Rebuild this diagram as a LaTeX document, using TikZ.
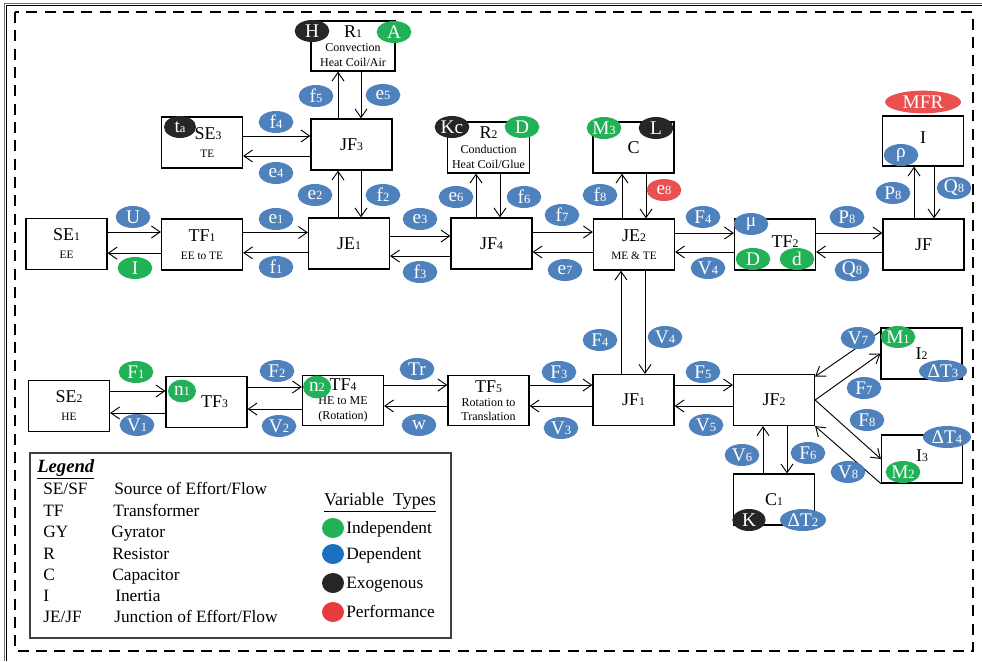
\documentclass[tikz,border=0pt]{standalone}
\usepackage{fontspec}
\setmainfont{Liberation Serif}
\usepackage{graphicx}
\usetikzlibrary{arrows.meta,positioning,calc,shapes.geometric}

\definecolor{depblue}{RGB}{79,129,189}
\definecolor{indgreen}{RGB}{35,177,87}
\definecolor{exoblack}{RGB}{38,38,38}
\definecolor{perfred}{RGB}{235,80,80}
\definecolor{legblue}{RGB}{28,112,192}
\definecolor{legred}{RGB}{232,60,60}

\newcommand{\ix}[1]{\scalebox{0.65}{#1}}
\newcommand{\smalltxt}[1]{{\fontsize{8.5}{10}\selectfont #1}}
\newcommand{\midtxt}[1]{{\fontsize{9}{10.5}\selectfont #1}}

\begin{document}
\begin{tikzpicture}[x=0.75pt, y=-0.75pt,
    blk/.style={rectangle, draw, line width=0.9pt, minimum width=60.75pt, minimum height=38.25pt, align=center, inner sep=1pt, font=\fontsize{13.5}{13.5}\selectfont},
    var/.style={ellipse, fill=#1, text=white, inner sep=0pt, minimum width=26pt, minimum height=16.5pt, font=\fontsize{14.5}{14.5}\selectfont},
    var/.default=depblue,
    arr/.style={-{Straight Barb[length=6.5pt, width=9pt]}, line width=0.7pt},
    lgd/.style={anchor=base west, inner sep=0pt, font=\fontsize{13}{13}\selectfont},
    dot/.style={ellipse, fill=#1, inner sep=0pt, minimum width=16.5pt, minimum height=15pt}
]
\useasboundingbox (0,0) rectangle (982,661);

% Frames
\draw[line width=0.6pt, black!55] (4,661) -- (4,3.5) -- (982,3.5);
\draw[line width=0.8pt] (6.5,661) -- (6.5,5.5) -- (982,5.5);
\draw[line width=1.5pt, dash pattern=on 8.25pt off 5.5pt] (15,12) rectangle (973,651);

% Top row (thermal/electrical side)
\node[blk] (se1) at (66.5,244) {SE\ix{1}\\\smalltxt{EE}};
\node[blk] (tf1) at (202,244.5) {TF\ix{1}\\\smalltxt{EE to TE}};
\node[blk] (je1) at (349,243.5) {JE\ix{1}};
\node[blk] (jf4) at (491.5,243.5) {JF\ix{4}};
\node[blk] (je2) at (634,244.5) {JE\ix{2}\\\smalltxt{ME \& TE}};
\node[blk] (tf2) at (775,244.5) {\raisebox{5pt}{\hspace*{15pt}TF\ix{2}}};
\node[blk] (jf) at (923.5,244.5) {JF};

% Upper elements
\node[blk] (se3) at (202,142.5) {\hspace*{9pt}SE\ix{3}\\\hspace*{8pt}\smalltxt{TE}};
\node[blk] (jf3) at (351.5,144.5) {JF\ix{3}};
\node[blk, minimum width=63pt, minimum height=37.5pt] (r1) at (353,46) {R\ix{1}\\[-2.5pt]\midtxt{Convection}\\[-2.5pt]\midtxt{Heat Coil/Air}};
\node[blk, minimum width=62pt] (r2) at (488.5,147.5) {R\ix{2}\\[-2.5pt]\midtxt{Conduction}\\[-2.5pt]\midtxt{Heat Coil/Glue}};
\node[blk] (cap) at (633.5,147.5) {C};
\node[blk, minimum height=37.5pt] (inr) at (923,141) {\raisebox{5pt}{I}};

% Bottom row (mechanical side)
\node[blk] (se2) at (69,406) {SE\ix{2}\\\smalltxt{HE}};
\node[blk] (tf3) at (206.5,402) {\hspace*{12pt}TF\ix{3}};
\node[blk, minimum height=37pt] (tf4) at (343,400.5) {TF\ix{4}\\[-3pt]\midtxt{HE to ME}\\[-2.5pt]\midtxt{(Rotation)}};
\node[blk, minimum height=37pt] (tf5) at (488.5,400.5) {TF\ix{5}\\[-3pt]\midtxt{Rotation to}\\[-2.5pt]\midtxt{Translation}};
\node[blk] (jf1) at (633.5,400) {JF\ix{1}};
\node[blk] (jf2) at (774,400) {JF\ix{2}};
\node[blk] (i2) at (921.5,353.5) {I\ix{2}};
\node[blk, minimum height=36pt] (i3) at (922,459) {\raisebox{5pt}{I\ix{3}}};
\node[blk] (c1) at (774,499.5) {C\ix{1}};

% Horizontal bonds, top row
\draw[arr] ([yshift=9pt]se1.east) -- ([yshift=9pt]se1.east -| tf1.west);
\draw[arr] ([yshift=-6.5pt]tf1.west) -- ([yshift=-6.5pt]tf1.west -| se1.east);
\draw[arr] ([yshift=9pt]tf1.east) -- ([yshift=9pt]tf1.east -| je1.west);
\draw[arr] ([yshift=-7pt]je1.west) -- ([yshift=-7pt]je1.west -| tf1.east);
\draw[arr] ([yshift=5.6pt]je1.east) -- ([yshift=5.6pt]je1.east -| jf4.west);
\draw[arr] ([yshift=-9.4pt]jf4.west) -- ([yshift=-9.4pt]jf4.west -| je1.east);
\draw[arr] ([yshift=8.6pt]jf4.east) -- ([yshift=8.6pt]jf4.east -| je2.west);
\draw[arr] ([yshift=-5.6pt]je2.west) -- ([yshift=-5.6pt]je2.west -| jf4.east);
\draw[arr] ([yshift=8.6pt]je2.east) -- ([yshift=8.6pt]je2.east -| tf2.west);
\draw[arr] ([yshift=-5.6pt]tf2.west) -- ([yshift=-5.6pt]tf2.west -| je2.east);
\draw[arr] ([yshift=8.6pt]tf2.east) -- ([yshift=8.6pt]tf2.east -| jf.west);
\draw[arr] ([yshift=-5.6pt]jf.west) -- ([yshift=-5.6pt]jf.west -| tf2.east);
\draw[arr] ([yshift=4.9pt]se3.east) -- ([yshift=4.9pt]se3.east -| jf3.west);
\draw[arr] ([yshift=-8.6pt]jf3.west) -- ([yshift=-8.6pt]jf3.west -| se3.east);

% Vertical bonds
\draw[arr] ([xshift=-10.1pt]jf3.north) -- ([xshift=-10.1pt]jf3.north |- r1.south);
\draw[arr] ([xshift=6pt]r1.south) -- ([xshift=6pt]r1.south |- jf3.north);
\draw[arr] ([xshift=-8.25pt]je1.north) -- ([xshift=-8.25pt]je1.north |- jf3.south);
\draw[arr] ([xshift=7.1pt]jf3.south) -- ([xshift=7.1pt]jf3.south |- je1.north);
\draw[arr] ([xshift=-11.6pt]jf4.north) -- ([xshift=-11.6pt]jf4.north |- r2.south);
\draw[arr] ([xshift=8.6pt]r2.south) -- ([xshift=8.6pt]r2.south |- jf4.north);
\draw[arr] ([xshift=-9pt]je2.north) -- ([xshift=-9pt]je2.north |- cap.south);
\draw[arr] ([xshift=9.4pt]cap.south) -- ([xshift=9.4pt]cap.south |- je2.north);
\draw[arr] ([xshift=-7.1pt]jf.north) -- ([xshift=-7.1pt]jf.north |- inr.south);
\draw[arr] ([xshift=8.25pt]inr.south) -- ([xshift=8.25pt]inr.south |- jf.north);
\draw[arr] ([xshift=-9.4pt]jf1.north) -- ([xshift=-9.4pt]jf1.north |- je2.south);
\draw[arr] ([xshift=8.25pt]je2.south) -- ([xshift=8.25pt]je2.south |- jf1.north);
\draw[arr] ([xshift=-8.25pt]c1.north) -- ([xshift=-8.25pt]c1.north |- jf2.south);
\draw[arr] ([xshift=9.75pt]jf2.south) -- ([xshift=9.75pt]jf2.south |- c1.north);

% Horizontal bonds, bottom row
\draw[arr] ([yshift=11.25pt]se2.east) -- ([yshift=11.25pt]se2.east -| tf3.west);
\draw[arr] ([yshift=-8.25pt]tf3.west) -- ([yshift=-8.25pt]tf3.west -| se2.east);
\draw[arr] ([yshift=11.25pt]tf3.east) -- ([yshift=11.25pt]tf3.east -| tf4.west);
\draw[arr] ([yshift=-6.4pt]tf4.west) -- ([yshift=-6.4pt]tf4.west -| tf3.east);
\draw[arr] ([yshift=11.6pt]tf4.east) -- ([yshift=11.6pt]tf4.east -| tf5.west);
\draw[arr] ([yshift=-4.1pt]tf5.west) -- ([yshift=-4.1pt]tf5.west -| tf4.east);
\draw[arr] ([yshift=11.6pt]tf5.east) -- ([yshift=11.6pt]tf5.east -| jf1.west);
\draw[arr] ([yshift=-4.5pt]jf1.west) -- ([yshift=-4.5pt]jf1.west -| tf5.east);
\draw[arr] ([yshift=11.25pt]jf1.east) -- ([yshift=11.25pt]jf1.east -| jf2.west);
\draw[arr] ([yshift=-4.5pt]jf2.west) -- ([yshift=-4.5pt]jf2.west -| jf1.east);

% Diagonal bonds to the inertias
\draw[arr] ([yshift=-3pt]i2.north west) -- ([yshift=-2pt]jf2.north east);
\draw[arr] (jf2.east) -- (i2.west);
\draw[arr] (jf2.east) -- (i3.west);
\draw[arr] (i3.south west) -- (jf2.south east);

% Parameters sitting on the elements
\node[var=exoblack] (bH) at (312,31) {H};
\node[var=indgreen] (bA) at (394,32) {A};
\node[var=exoblack, minimum width=24pt] (bta) at (180,127) {t\ix{a}};
\node[var=exoblack] (bKc) at (452,127) {Kc};
\node[var=indgreen] (bD1) at (522,127) {D};
\node[var=indgreen] (bM3) at (604,128) {M\ix{3}};
\node[var=exoblack] (bL) at (656,128) {L};
\node[var=perfred, minimum width=57pt, minimum height=17pt] (bMFR) at (923,102) {MFR};
\node[var] (brho) at (901,155) {ρ};
\node[var] (bmu) at (751,224) {μ};
\node[var=indgreen] (bD2) at (753,259) {D};
\node[var=indgreen] (bd) at (797,259) {d};
\node[var=indgreen, minimum width=21pt, minimum height=17pt] (bn1) at (182,391) {n\ix{1}};
\node[var=indgreen, minimum width=21pt, minimum height=17pt] (bn2) at (317,387) {n\ix{2}};
\node[var=indgreen] (bM1) at (898,337) {M\ix{1}};
\node[var, minimum width=36pt] (bdT3) at (943,371) {ΔT\ix{3}};
\node[var, minimum width=36pt] (bdT4) at (947,437) {ΔT\ix{4}};
\node[var=indgreen] (bM2) at (903,472) {M\ix{2}};
\node[var=exoblack, minimum width=25pt] (bK) at (749,520) {K};
\node[var, minimum width=34.5pt] (bdT2) at (803,520) {ΔT\ix{2}};

% Bond variables, top part
\node[var] (vU) at (133,217) {U};
\node[var=indgreen] (vI) at (135,268) {I};
\node[var] (ve1) at (276,219) {e\ix{1}};
\node[var] (vf1) at (276,267) {f\ix{1}};
\node[var] (vf4) at (276,122) {f\ix{4}};
\node[var] (ve4) at (276,173) {e\ix{4}};
\node[var] (vf5) at (316,96) {f\ix{5}};
\node[var] (ve5) at (383,95) {e\ix{5}};
\node[var] (ve2) at (315,195) {e\ix{2}};
\node[var] (vf2) at (383,195) {f\ix{2}};
\node[var] (ve3) at (420,219) {e\ix{3}};
\node[var] (vf3) at (420,272) {f\ix{3}};
\node[var] (ve6) at (456,197) {e\ix{6}};
\node[var] (vf6) at (524,197) {f\ix{6}};
\node[var] (vf7) at (562,215) {f\ix{7}};
\node[var] (ve7) at (565,270) {e\ix{7}};
\node[var] (vf8) at (600,195) {f\ix{8}};
\node[var=perfred] (ve8) at (664,190) {e\ix{8}};
\node[var] (vF4a) at (703,217) {F\ix{4}};
\node[var] (vV4a) at (708,268) {V\ix{4}};
\node[var] (vP8a) at (847,217) {P\ix{8}};
\node[var] (vQ8a) at (852,270) {Q\ix{8}};
\node[var] (vP8b) at (893,193) {P\ix{8}};
\node[var] (vQ8b) at (954,188) {Q\ix{8}};

% Bond variables, bottom part
\node[var] (vF4b) at (600,340) {F\ix{4}};
\node[var] (vV4b) at (665,337) {V\ix{4}};
\node[var] (vF5) at (703,372) {F\ix{5}};
\node[var] (vV5) at (706,425) {V\ix{5}};
\node[var] (vV7) at (858,338) {V\ix{7}};
\node[var] (vF7) at (864,388) {F\ix{7}};
\node[var] (vF8) at (867,420) {F\ix{8}};
\node[var] (vV8) at (848,472) {V\ix{8}};
\node[var] (vV6) at (742,455) {V\ix{6}};
\node[var] (vF6) at (808,453) {F\ix{6}};
\node[var=indgreen] (vF1) at (136,372) {F\ix{1}};
\node[var] (vV1) at (137,425) {V\ix{1}};
\node[var] (vF2) at (277,371) {F\ix{2}};
\node[var] (vV2) at (279,426) {V\ix{2}};
\node[var] (vTr) at (417,369) {Tr};
\node[var] (vw) at (419,425) {w};
\node[var] (vF3) at (559,372) {F\ix{3}};
\node[var] (vV3) at (561,428) {V\ix{3}};

% Legend
\node[draw=black!75, line width=1pt, minimum width=315.75pt, minimum height=138.75pt] (lgd) at (240.5,545.5) {};
\node[lgd, font=\fontsize{14}{14}\selectfont\bfseries\itshape] (lgdtitle) at (37,472) {\underline{Legend}};
\node[lgd] (k1) at (43,494) {SE/SF};
\node[lgd] (d1) at (114,494) {Source of Effort/Flow};
\node[lgd] (k2) at (43,516) {TF};
\node[lgd] (d2) at (113,516) {Transformer};
\node[lgd] (k3) at (43,537) {GY};
\node[lgd] (d3) at (111,537) {Gyrator};
\node[lgd] (k4) at (43,559) {R};
\node[lgd] (d4) at (112,559) {Resistor};
\node[lgd] (k5) at (43,580) {C};
\node[lgd] (d5) at (112,580) {Capacitor};
\node[lgd] (k6) at (43,601) {I};
\node[lgd] (d6) at (115,601) {Inertia};
\node[lgd] (k7) at (43,622) {JE/JF};
\node[lgd] (d7) at (114,622) {Junction of Effort/Flow};

\node[font=\fontsize{13.5}{13.5}\selectfont, inner sep=0pt] (vtypes) at (380,503) {\underline{Variable\ \ Types}};
\node[dot=indgreen] (c-ind) at (333,528) {};
\node[lgd] (t-ind) at (346,533) {Independent};
\node[dot=legblue] (c-dep) at (333,554) {};
\node[lgd] (t-dep) at (346,559) {Dependent};
\node[dot=exoblack] (c-exo) at (333,583) {};
\node[lgd] (t-exo) at (346,588) {Exogenous};
\node[dot=legred] (c-perf) at (333,612) {};
\node[lgd] (t-perf) at (346,617) {Performance};

\end{tikzpicture}
\end{document}
